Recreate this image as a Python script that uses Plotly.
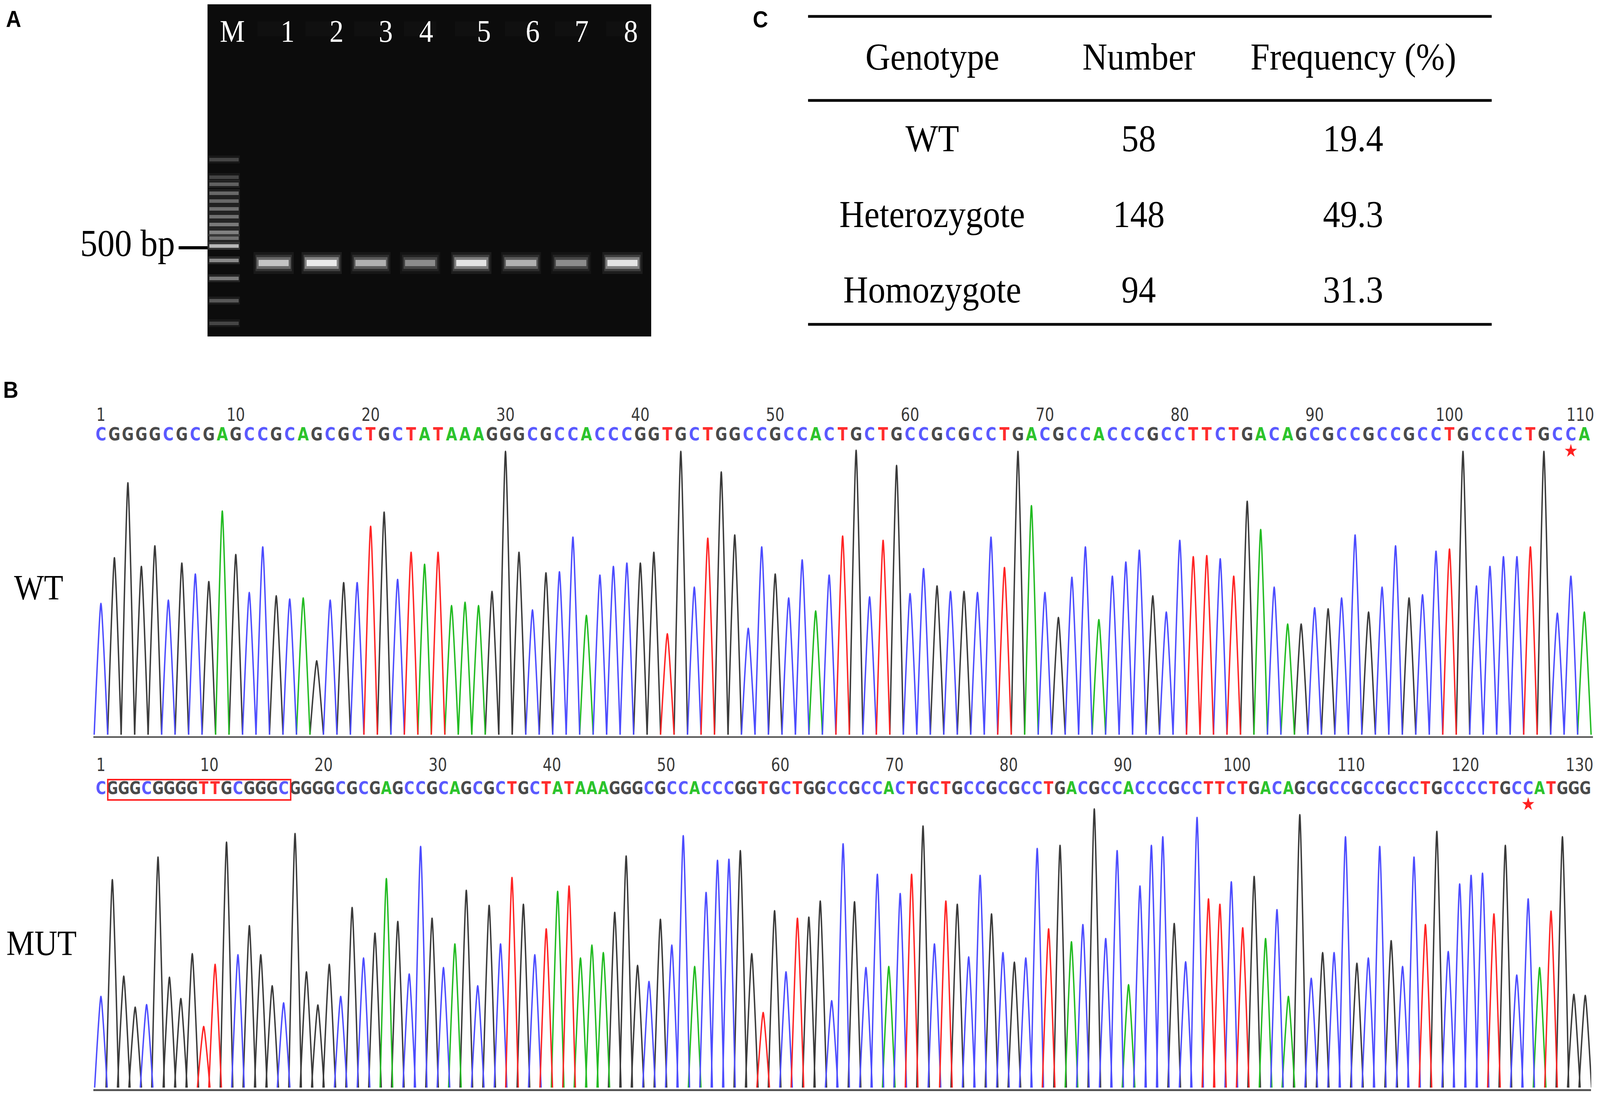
import plotly.graph_objects as go

W, H = 4550, 2802

# ---------------- DATA ----------------
# Panel A: agarose gel
lanes = ["M", "1", "2", "3", "4", "5", "6", "7", "8"]
sample_band_intensity = [0.72, 1.0, 0.62, 0.45, 0.95, 0.62, 0.45, 0.95]
ladder_band_px = [408, 453, 471, 494, 514, 534, 554, 574, 594, 609, 629, 666, 712, 769, 827]
ladder_band_intensity = [0.30, 0.30, 0.45, 0.50, 0.50, 0.55, 0.55, 0.60, 0.65, 0.55, 1.0, 0.70, 0.60, 0.40, 0.30]
marker_label = "500 bp"

# Panel C: genotype table
table_header = ["Genotype", "Number", "Frequency (%)"]
genotypes = ["WT", "Heterozygote", "Homozygote"]
numbers = ["58", "148", "94"]
frequencies = ["19.4", "49.3", "31.3"]

# Panel B: sequencing chromatograms
wt_seq = "CGGGGCGCGAGCCGCAGCGCTGCTATAAAGGGCGCCACCCGGTGCTGGCCGCCACTGCTGCCGCGCCTGACGCCACCCGCCTTCTGACAGCGCCGCCGCCTGCCCCTGCCA"
wt_peaks = [605, 815, 1160, 775, 870, 620, 790, 740, 705, 1030,
            830, 655, 865, 640, 625, 630, 340, 620, 700, 700,
            960, 1025, 715, 840, 785, 840, 595, 610, 595, 660,
            1305, 840, 575, 745, 750, 910, 550, 735, 775, 790,
            790, 840, 465, 1305, 680, 905, 1210, 920, 490, 865,
            740, 630, 805, 570, 735, 915, 1310, 635, 895, 1240,
            650, 765, 685, 660, 660, 655, 910, 770, 1305, 1055,
            655, 540, 725, 865, 530, 730, 795, 850, 640, 565,
            895, 820, 825, 810, 730, 1075, 945, 680, 510, 510,
            585, 580, 630, 920, 565, 680, 870, 630, 645, 845,
            855, 1305, 685, 775, 820, 820, 865, 1305, 560, 730,
            565]
wt_ruler = [1, 10, 20, 30, 40, 50, 60, 70, 80, 90, 100, 110]
wt_star_index = 109

mut_seq = "CGGGCGGGGTTGCGGGCGGGGCGCGAGCCGCAGCGCTGCTATAAAGGGCGCCACCCGGTGCTGGCCGCCACTGCTGCCGCGCCTGACGCCACCCGCCTTCTGACAGCGCCGCCGCCTGCCCCTGCCATGGG"
mut_peaks = [425, 970, 520, 375, 387, 1075, 515, 415, 625, 285,
             575, 1145, 620, 755, 620, 475, 395, 1185, 540, 385,
             575, 425, 840, 605, 720, 975, 775, 530, 1125, 790,
             560, 670, 920, 475, 850, 670, 980, 855, 620, 740,
             915, 940, 605, 665, 630, 817, 1080, 570, 495, 785,
             665, 1175, 565, 910, 1060, 1065, 1105, 625, 350, 825,
             540, 790, 795, 870, 405, 1137, 867, 560, 995, 565,
             905, 995, 1220, 670, 870, 855, 610, 990, 810, 630,
             585, 605, 1115, 740, 1130, 680, 760, 1300, 695, 1105,
             480, 940, 1130, 1170, 765, 587, 1260, 880, 855, 960,
             745, 985, 695, 830, 425, 1273, 510, 630, 630, 1170,
             580, 605, 1125, 685, 565, 1075, 760, 1195, 635, 950,
             990, 1000, 810, 1130, 525, 880, 560, 823, 1170, 435,
             430]
mut_ruler = [1, 10, 20, 30, 40, 50, 60, 70, 80, 90, 100, 110, 120, 130]
mut_star_index = 125
mut_insert_first, mut_insert_last = 1, 16

# ---------------- STYLE / LAYOUT ----------------
SERIF = "Liberation Serif, Times New Roman, serif"
SANS = "Liberation Sans, Arial, sans-serif"
NARROW = "Liberation Sans Narrow, DejaVu Sans Condensed, Arial Narrow, sans-serif"
peak_col = {"A": "#22bb22", "C": "#4c4cff", "G": "#3a3a3a", "T": "#ff2424"}
text_col = {"A": "#2cc42c", "C": "#5a5aff", "G": "#4a4a4a", "T": "#ff2d2d"}


def px(X):
    return X / W


def py(Y):
    return 1 - Y / H


fig = go.Figure()

# ---- chromatogram geometry (reference pixel frame) ----
WT_X0, WT_DX = 287, 38.35
WT_BASE, WT_UPP = 1880, 1.80        # baseline pixel, units per pixel
MUT_X0, MUT_DX = 287, 32.47
MUT_BASE, MUT_UPP = 2783, 1.823

wt_yr = [-8, 1520]
mut_yr = [-8, 1560]


def peak_xy(seq, heights, base, half):
    xs, ys = [], []
    for i, (b, h) in enumerate(zip(seq, heights)):
        if b == base:
            xs += [i - half, i, i + half, None]
            ys += [0, h, 0, None]
    return xs, ys


for ax, seq, pk, half in (("", wt_seq, wt_peaks, 0.5), ("2", mut_seq, mut_peaks, 0.55)):
    for b in "GACT":
        xs, ys = peak_xy(seq, pk, b, half)
        fig.add_trace(go.Scatter(x=xs, y=ys, mode="lines",
                                 line=dict(color=peak_col[b], width=4, shape="spline", smoothing=0.5),
                                 xaxis="x" + ax, yaxis="y" + ax, hoverinfo="skip", cliponaxis=False))

# letters, ruler, stars
wt_letter_y = (WT_BASE - 1116) * WT_UPP
wt_ruler_y = (WT_BASE - 1065) * WT_UPP
wt_star_y = (WT_BASE - 1154) * WT_UPP
fig.add_trace(go.Scatter(x=list(range(len(wt_seq))), y=[wt_letter_y] * len(wt_seq), mode="text",
                         text=list(wt_seq),
                         textfont=dict(family=NARROW, size=46, weight="bold", color=[text_col[b] for b in wt_seq]),
                         xaxis="x", yaxis="y", cliponaxis=False, hoverinfo="skip"))
wt_ruler_pos = [0] + [n for n in wt_ruler[1:-1]] + [wt_ruler[-1] - 0.3]
fig.add_trace(go.Scatter(x=wt_ruler_pos, y=[wt_ruler_y] * len(wt_ruler), mode="text",
                         text=[str(n) for n in wt_ruler], textfont=dict(family=NARROW, size=46, color="#3a3a3a"),
                         xaxis="x", yaxis="y", cliponaxis=False, hoverinfo="skip"))
fig.add_trace(go.Scatter(x=[wt_star_index], y=[wt_star_y], mode="markers",
                         marker=dict(symbol="star", size=26, color="#ff2020", line_width=0),
                         xaxis="x", yaxis="y", cliponaxis=False, hoverinfo="skip"))

mut_letter_y = (MUT_BASE - 2021) * MUT_UPP
mut_ruler_y = (MUT_BASE - 1961) * MUT_UPP
mut_star_y = (MUT_BASE - 2058) * MUT_UPP
fig.add_trace(go.Scatter(x=list(range(len(mut_seq))), y=[mut_letter_y] * len(mut_seq), mode="text",
                         text=list(mut_seq),
                         textfont=dict(family=NARROW, size=44, weight="bold", color=[text_col[b] for b in mut_seq]),
                         xaxis="x2", yaxis="y2", cliponaxis=False, hoverinfo="skip"))
mut_ruler_pos = [0] + [n - 0.5 for n in mut_ruler[1:]]
fig.add_trace(go.Scatter(x=mut_ruler_pos, y=[mut_ruler_y] * len(mut_ruler), mode="text",
                         text=[str(n) for n in mut_ruler], textfont=dict(family=NARROW, size=46, color="#3a3a3a"),
                         xaxis="x2", yaxis="y2", cliponaxis=False, hoverinfo="skip"))
fig.add_trace(go.Scatter(x=[mut_star_index], y=[mut_star_y], mode="markers",
                         marker=dict(symbol="star", size=26, color="#ff2020", line_width=0),
                         xaxis="x2", yaxis="y2", cliponaxis=False, hoverinfo="skip"))

# ---- gel ----
GX0, GX1, GY0, GY1 = 590, 1852, 11, 861
ladder_x, ladder_w = 637, 84
sample_x = [778, 915, 1054, 1195, 1340, 1482, 1624, 1770]
sample_w = 92
sample_c = 673
label_x = [660, 818, 957, 1097, 1212, 1376, 1515, 1654, 1794]

# wells
fig.add_trace(go.Bar(x=sample_x, y=[38] * len(sample_x), base=[55] * len(sample_x), width=[sample_w] * len(sample_x),
                     marker=dict(color="rgba(255,255,255,0.02)", line_width=0),
                     xaxis="x3", yaxis="y3", hoverinfo="skip"))
for thick, dw, alpha in ((56, 22, 0.08), (42, 12, 0.16), (30, 4, 0.38), (16, -6, 0.9)):
    fig.add_trace(go.Bar(x=sample_x, y=[thick] * len(sample_x), base=[sample_c - thick / 2] * len(sample_x),
                         width=[sample_w + dw] * len(sample_x),
                         marker=dict(color=[f"rgba(245,245,245,{min(1.0, alpha * i):.3f})" for i in sample_band_intensity], line_width=0),
                         xaxis="x3", yaxis="y3", hoverinfo="skip"))
for thick, dw, alpha in ((20, 6, 0.18), (9, 0, 0.7)):
    fig.add_trace(go.Bar(x=[ladder_x] * len(ladder_band_px), y=[thick] * len(ladder_band_px),
                         base=[c - thick / 2 for c in ladder_band_px], width=[ladder_w + dw] * len(ladder_band_px),
                         marker=dict(color=[f"rgba(240,240,240,{alpha * i:.3f})" for i in ladder_band_intensity], line_width=0),
                         xaxis="x3", yaxis="y3", hoverinfo="skip"))

annotations = []
for lx, lab in zip(label_x, lanes):
    annotations.append(dict(x=lx, y=80, xref="x3", yref="y3", text=lab, showarrow=False,
                            font=dict(family=SERIF, size=80, color="white"), xanchor="center", yanchor="middle"))
annotations.append(dict(x=px(500), y=py(622), xref="paper", yref="paper", text=marker_label, showarrow=False,
                        font=dict(family=SERIF, size=98, color="black"), xanchor="right", yanchor="middle"))

# panel labels
for lab, X, Y in (("A", 38, 48), ("B", 30, 998), ("C", 2162, 50)):
    annotations.append(dict(x=px(X), y=py(Y), xref="paper", yref="paper", text=f"<b>{lab}</b>", showarrow=False,
                            font=dict(family=SANS, size=60, color="black"), xanchor="center", yanchor="middle"))

# WT / MUT labels
annotations.append(dict(x=px(110), y=py(1503), xref="paper", yref="paper", text="WT", showarrow=False,
                        font=dict(family=SERIF, size=90, color="black"), xanchor="center", yanchor="middle"))
annotations.append(dict(x=px(118), y=py(2413), xref="paper", yref="paper", text="MUT", showarrow=False,
                        font=dict(family=SERIF, size=90, color="black"), xanchor="center", yanchor="middle"))

# table
col_x = [2651, 3238, 3848]
header_y = 145
row_y = [354, 548, 741]
for cx, t in zip(col_x, table_header):
    annotations.append(dict(x=px(cx), y=py(header_y), xref="paper", yref="paper", text=t, showarrow=False,
                            font=dict(family=SERIF, size=98, color="black"), xanchor="center", yanchor="middle"))
for ry, g, n, f in zip(row_y, genotypes, numbers, frequencies):
    for cx, t in zip(col_x, (g, n, f)):
        annotations.append(dict(x=px(cx), y=py(ry), xref="paper", yref="paper", text=t, showarrow=False,
                                font=dict(family=SERIF, size=98, color="black"), xanchor="center", yanchor="middle"))

shapes = []
shapes.append(dict(type="rect", xref="x3", yref="y3", x0=GX0, x1=GX1, y0=GY0, y1=GY1,
                   fillcolor="#0c0c0c", line_width=0, layer="below"))
shapes.append(dict(type="line", xref="paper", yref="paper", x0=px(508), x1=px(590), y0=py(634), y1=py(634),
                   line=dict(color="black", width=8)))
for ly in (42, 257, 830):
    shapes.append(dict(type="line", xref="paper", yref="paper", x0=px(2298), x1=px(4242), y0=py(ly), y1=py(ly),
                       line=dict(color="black", width=7)))
shapes.append(dict(type="rect", xref="x2", yref="y2", x0=mut_insert_first - 0.4, x1=mut_insert_last + 0.62,
                   y0=(MUT_BASE - 2047) * MUT_UPP, y1=(MUT_BASE - 1995) * MUT_UPP,
                   line=dict(color="#ff2020", width=4), fillcolor="rgba(0,0,0,0)"))

noax = dict(showgrid=False, zeroline=False, showticklabels=False, ticks="")

wt_top = WT_BASE - wt_yr[1] / WT_UPP
wt_bot = WT_BASE - wt_yr[0] / WT_UPP
mut_top = MUT_BASE - mut_yr[1] / MUT_UPP
mut_bot = MUT_BASE - mut_yr[0] / MUT_UPP

fig.update_layout(
    width=W, height=H, margin=dict(l=0, r=0, t=0, b=0),
    paper_bgcolor="white", plot_bgcolor="white", showlegend=False, barmode="overlay", bargap=0,
    xaxis=dict(domain=[px(265), px(4530)], range=[(265 - WT_X0) / WT_DX, (4530 - WT_X0) / WT_DX],
               showline=True, linecolor="#555555", linewidth=4, **noax),
    yaxis=dict(domain=[py(wt_bot), py(wt_top)], range=wt_yr, showline=False, **noax),
    xaxis2=dict(domain=[px(265), px(4525)], range=[(265 - MUT_X0) / MUT_DX, (4525 - MUT_X0) / MUT_DX],
                showline=True, linecolor="#555555", linewidth=5, anchor="y2", **noax),
    yaxis2=dict(domain=[py(mut_bot), py(mut_top)], range=mut_yr, showline=False, anchor="x2", **noax),
    xaxis3=dict(domain=[px(GX0), px(GX1)], range=[GX0, GX1], anchor="y3", showline=False, **noax),
    yaxis3=dict(domain=[py(GY1), py(GY0)], range=[GY1, GY0], anchor="x3", showline=False, **noax),
    annotations=annotations, shapes=shapes,
)

# fit the 4550x2802 figure to the actual viewport (no body margin, no scrollbars)
fit_js = (
    "var gd=document.getElementById('{plot_id}');"
    "document.documentElement.style.margin='0';document.body.style.margin='0';"
    "document.documentElement.style.overflow='hidden';document.body.style.overflow='hidden';"
    "var sx=window.innerWidth/%d, sy=window.innerHeight/%d;"
    "gd.style.transformOrigin='0 0';gd.style.transform='scale('+sx+','+sy+')';" % (W, H)
)

fig.write_html("out.html", post_script=fit_js, config={"displayModeBar": False})
